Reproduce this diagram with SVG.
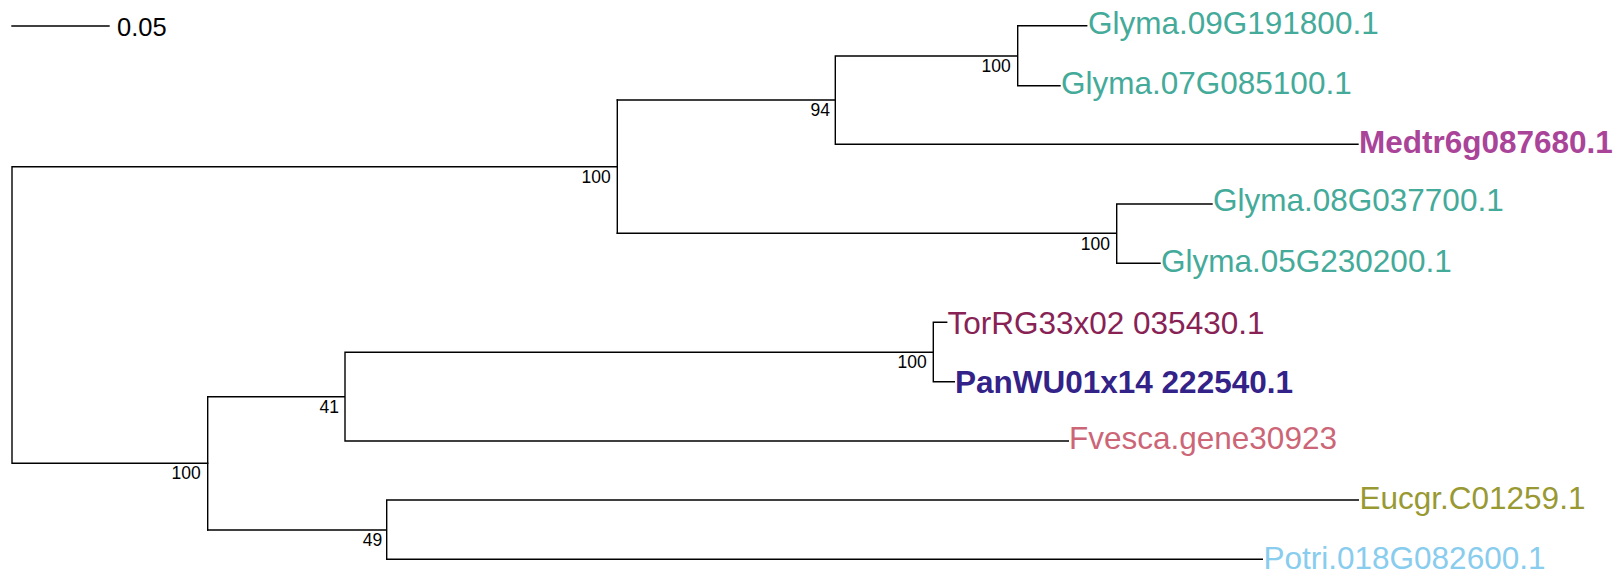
<svg xmlns="http://www.w3.org/2000/svg" width="1617" height="574" viewBox="0 0 1617 574">
<style>
.e{stroke:#000;stroke-width:1.4;fill:none;stroke-linecap:square}
.t{font-family:"Liberation Sans",Arial,sans-serif;font-size:31.5px}
.b{font-weight:bold}
.s{font-family:"Liberation Sans",Arial,sans-serif;font-size:17.5px;fill:#000;text-anchor:end}
</style>
<rect width="1617" height="574" fill="#fff"/>
<g id="scale">
<line class="e" x1="12" y1="26" x2="109" y2="26"/>
<text x="117" y="36" style="font-family:'Liberation Sans',Arial,sans-serif;font-size:25.5px" fill="#000">0.05</text>
</g>
<g id="connectors">
<path class="e" d="M617.3,166.7H12V463.3H207.7"/>
<path class="e" d="M617.3,100V233.3"/>
<path class="e" d="M617.3,100H835.3V56H1017.7V25.7H1086.7M1017.7,56V85.7H1060M835.3,100V144.3H1358"/>
<path class="e" d="M617.3,233.3H1116.7V204H1212M1116.7,233.3V263.3H1160"/>
<path class="e" d="M207.7,396.7V530"/>
<path class="e" d="M207.7,396.7H345V352.3H933.3V322.3H946.7M933.3,352.3V381.7H954.3M345,396.7V441H1068.3"/>
<path class="e" d="M207.7,530H386.7V500H1358.3M386.7,530V559.3H1262.3"/>
</g>
<g id="support">
<text class="s" x="610.7" y="182.5">100</text>
<text class="s" x="830" y="115.5">94</text>
<text class="s" x="1010.7" y="71.5">100</text>
<text class="s" x="1110" y="249.5">100</text>
<text class="s" x="200.7" y="479">100</text>
<text class="s" x="339" y="413">41</text>
<text class="s" x="382.3" y="546">49</text>
<text class="s" x="926.7" y="367.5">100</text>
</g>
<g id="leaf-glyma09"><text class="t" x="1088" y="34.3" fill="#44AA99">Glyma.09G191800.1</text></g>
<g id="leaf-glyma07"><text class="t" x="1061" y="93.5" fill="#44AA99">Glyma.07G085100.1</text></g>
<g id="leaf-medtr"><text class="t b" x="1359" y="153.3" fill="#AA4499">Medtr6g087680.1</text></g>
<g id="leaf-glyma08"><text class="t" x="1213" y="211" fill="#44AA99">Glyma.08G037700.1</text></g>
<g id="leaf-glyma05"><text class="t" x="1161" y="271.5" fill="#44AA99">Glyma.05G230200.1</text></g>
<g id="leaf-torrg"><text class="t" x="947.5" y="334.3" fill="#882255">TorRG33x02 035430.1</text></g>
<g id="leaf-panwu"><text class="t b" x="955" y="393.3" fill="#332288">PanWU01x14 222540.1</text></g>
<g id="leaf-fvesca"><text class="t" x="1069" y="448.5" fill="#CC6677">Fvesca.gene30923</text></g>
<g id="leaf-eucgr"><text class="t" x="1359.5" y="508.5" fill="#999933">Eucgr.C01259.1</text></g>
<g id="leaf-potri"><text class="t" x="1263.5" y="568.5" fill="#88CCEE">Potri.018G082600.1</text></g>
</svg>
